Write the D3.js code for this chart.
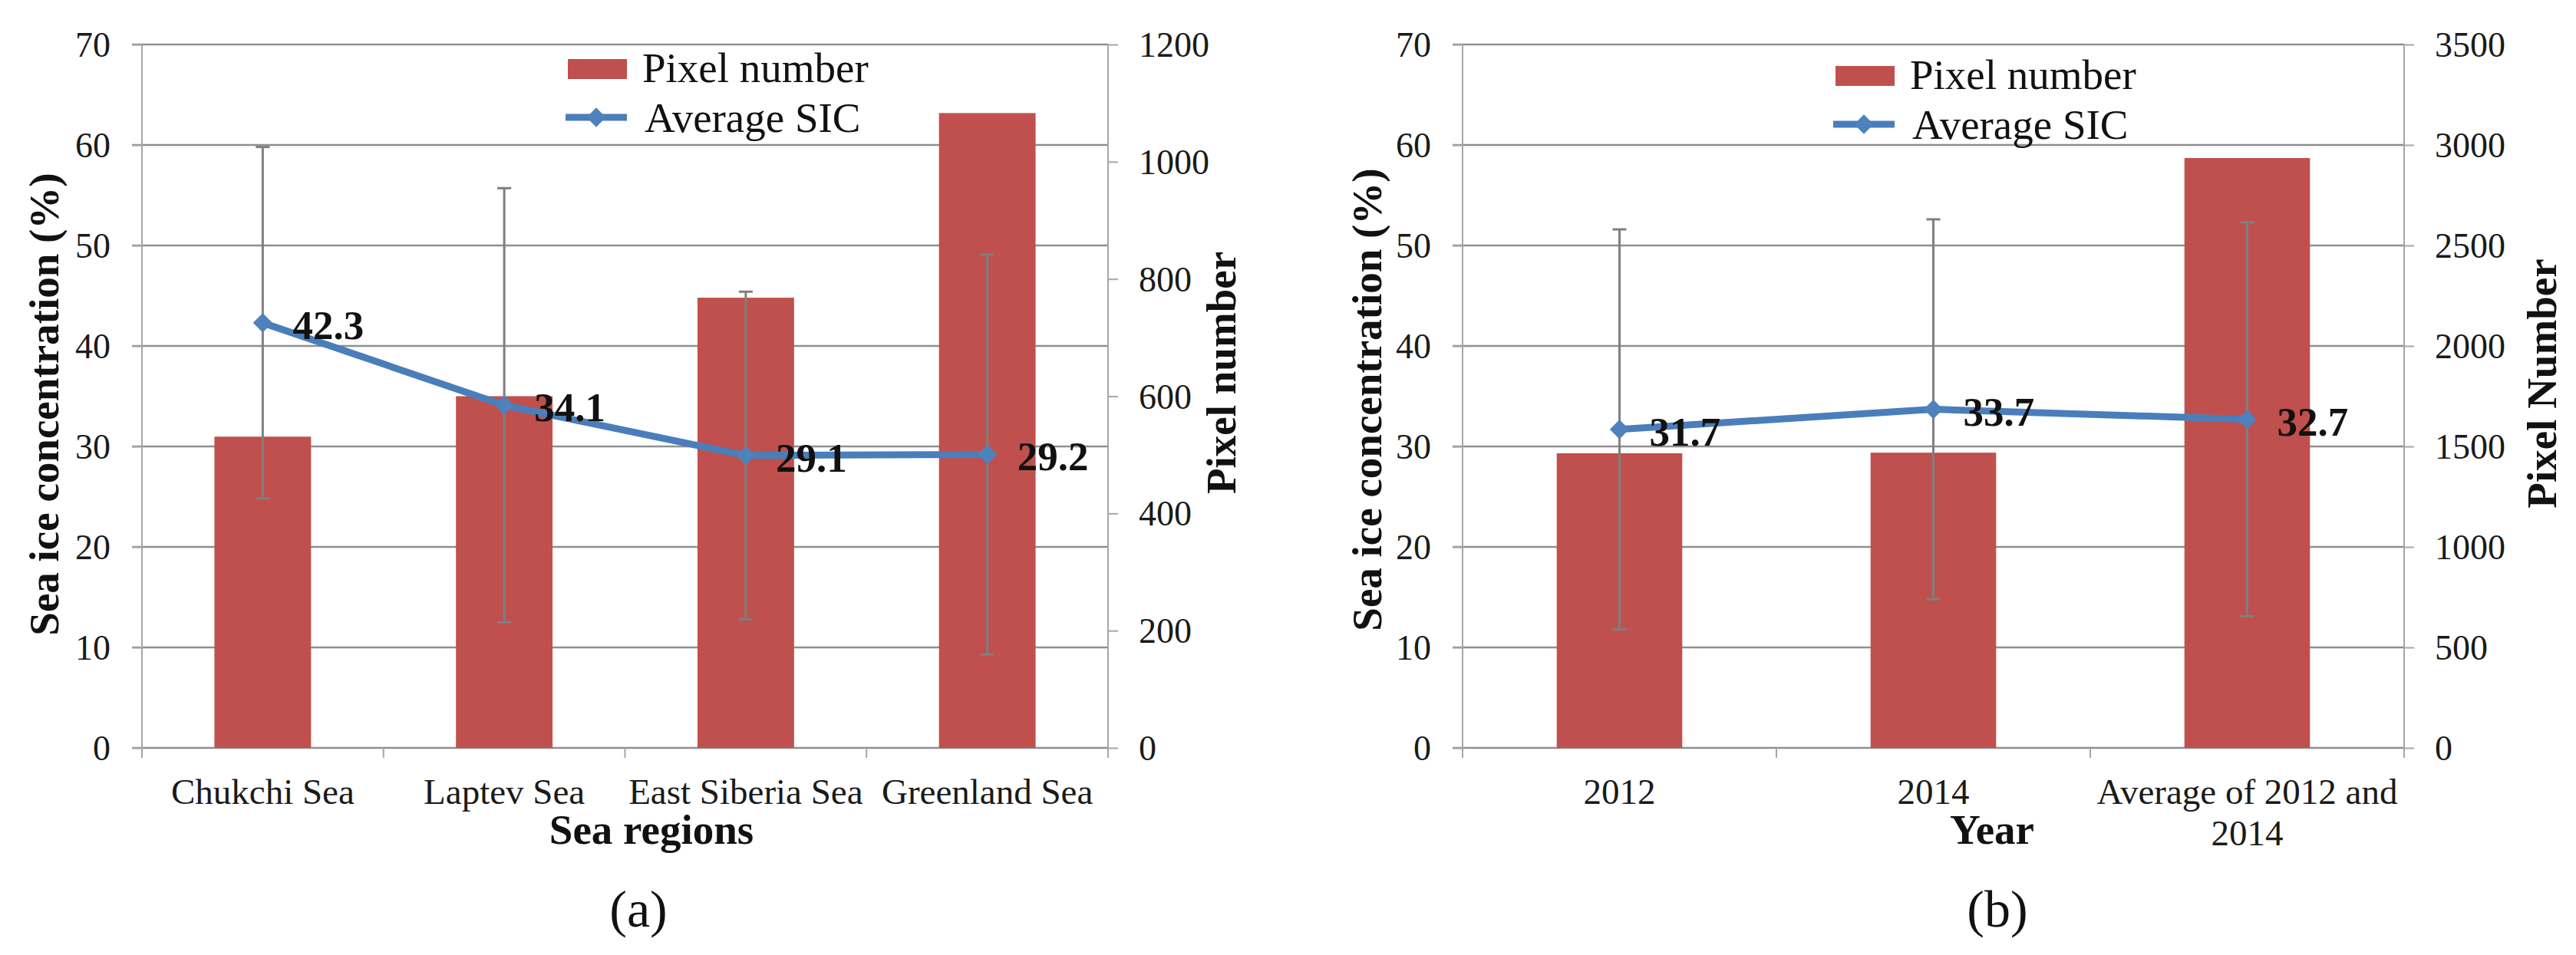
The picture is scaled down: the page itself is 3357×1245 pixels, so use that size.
<!DOCTYPE html>
<html>
<head>
<meta charset="utf-8">
<script src="https://cdnjs.cloudflare.com/ajax/libs/d3/7.8.5/d3.min.js"></script>
<style>
  body { margin: 0; background: #fff; }
  svg { display: block; font-family: "Liberation Serif", "Times New Roman", serif; }
</style>
</head>
<body>
<svg id="chart" width="3357" height="1245"></svg>
<script>
// panel (a): sea regions
var seaRegions = ["Chukchi Sea", "Laptev Sea", "East Siberia Sea", "Greenland Sea"]
var seaPixels = [531, 600, 768, 1083]
var seaSIC = [42.3, 34.1, 29.1, 29.2]
var seaSD = [17.5, 21.6, 16.3, 19.9]

// panel (b): years
var years = ["2012", "2014", "Average of 2012 and 2014"]
var yearPixels = [1466, 1469, 2935]
var yearSIC = [31.7, 33.7, 32.7]
var yearSD = [19.9, 18.9, 19.6]

// tick labels
var sicTicks = [0, 10, 20, 30, 40, 50, 60, 70]
var pixelTicksA = [0, 200, 400, 600, 800, 1000, 1200]
var pixelTicksB = [0, 500, 1000, 1500, 2000, 2500, 3000, 3500]

var BAR = "#C0504D", LINE = "#4A7EBB", MARK = "#4F81BD"
var GRID = "#8f8f8f", AXIS = "#a6a6a6", ERR = "#7f7f7f"

var svg = d3.select("#chart")

function wrap(text, width) {
  text.each(function() {
    var t = d3.select(this), words = t.text().split(/\s+/), line = [], lineNo = 0
    var x = t.attr("x"), y = t.attr("y")
    var span = t.text(null).append("tspan").attr("x", x).attr("y", y)
    words.forEach(function(w) {
      line.push(w)
      span.text(line.join(" "))
      if (span.node().getComputedTextLength() > width && line.length > 1) {
        line.pop()
        span.text(line.join(" "))
        line = [w]
        span = t.append("tspan").attr("x", x).attr("y", y).attr("dy", (++lineNo * 54) + "px").text(w)
      }
    })
  })
}

function drawPanel(p) {
  var g = svg.append("g")
  var x = d3.scaleBand().domain(p.cats).range([p.left, p.right]).padding(0)
  var yL = d3.scaleLinear().domain([0, 70]).range([975, 58])
  var yR = d3.scaleLinear().domain([0, p.rightTicks[p.rightTicks.length - 1]]).range([975, 58])
  var bw = x.bandwidth()
  var cx = function(c) { return x(c) + bw / 2 }

  // gridlines (with outside ticks on the left)
  g.selectAll(".grid").data(sicTicks).enter().append("line")
    .attr("x1", p.left - 13).attr("x2", p.right)
    .attr("y1", function(d) { return yL(d) }).attr("y2", function(d) { return yL(d) })
    .attr("stroke", GRID).attr("stroke-width", 2.5)

  // vertical axis lines
  g.append("line").attr("x1", p.left).attr("x2", p.left).attr("y1", 58).attr("y2", 988)
    .attr("stroke", AXIS).attr("stroke-width", 2)
  g.append("line").attr("x1", p.right).attr("x2", p.right).attr("y1", 58).attr("y2", 988)
    .attr("stroke", AXIS).attr("stroke-width", 2)

  // left axis
  var la = g.append("g").attr("transform", "translate(" + p.left + ",0)")
    .call(d3.axisLeft(yL).tickValues(sicTicks).tickFormat(d3.format("d")).tickSize(13).tickPadding(28))
  // right axis
  var ra = g.append("g").attr("transform", "translate(" + p.right + ",0)")
    .call(d3.axisRight(yR).tickValues(p.rightTicks).tickFormat(d3.format("d")).tickSize(13).tickPadding(27))
  ;[la, ra].forEach(function(a) {
    a.select(".domain").remove()
    a.selectAll(".tick line").attr("stroke", AXIS).attr("stroke-width", 2)
    a.selectAll(".tick text").attr("font-size", 46).attr("font-family", "Liberation Serif")
      .attr("fill", "#1a1a1a").attr("dy", "0.34em")
  })

  // category ticks along the bottom
  g.selectAll(".xt").data(p.cats.slice(1)).enter().append("line")
    .attr("x1", function(d) { return x(d) }).attr("x2", function(d) { return x(d) })
    .attr("y1", 975).attr("y2", 988).attr("stroke", AXIS).attr("stroke-width", 2)

  // category labels
  g.selectAll(".xl").data(p.cats).enter().append("text")
    .attr("x", cx).attr("y", 1048)
    .attr("text-anchor", "middle").attr("font-size", 47).attr("fill", "#1a1a1a")
    .text(function(d) { return d })
    .call(wrap, bw)

  // bars
  g.selectAll(".bar").data(p.cats).enter().append("rect")
    .attr("x", function(d) { return x(d) + bw * 0.3 })
    .attr("width", bw * 0.4)
    .attr("y", function(d, i) { return yR(p.pixels[i]) })
    .attr("height", function(d, i) { return 975 - yR(p.pixels[i]) })
    .attr("fill", BAR)

  // error bars
  var eb = g.selectAll(".err").data(p.cats).enter().append("g").attr("stroke", ERR).attr("stroke-width", 3)
  eb.append("line")
    .attr("x1", cx).attr("x2", cx)
    .attr("y1", function(d, i) { return yL(p.sic[i] - p.sd[i]) })
    .attr("y2", function(d, i) { return yL(p.sic[i] + p.sd[i]) })
  eb.append("line")
    .attr("x1", function(d) { return cx(d) - 9 }).attr("x2", function(d) { return cx(d) + 9 })
    .attr("y1", function(d, i) { return yL(p.sic[i] + p.sd[i]) })
    .attr("y2", function(d, i) { return yL(p.sic[i] + p.sd[i]) })
  eb.append("line")
    .attr("x1", function(d) { return cx(d) - 9 }).attr("x2", function(d) { return cx(d) + 9 })
    .attr("y1", function(d, i) { return yL(p.sic[i] - p.sd[i]) })
    .attr("y2", function(d, i) { return yL(p.sic[i] - p.sd[i]) })

  // SIC line + markers
  var pts = p.cats.map(function(c, i) { return [cx(c), yL(p.sic[i])] })
  g.append("path").attr("d", d3.line()(pts))
    .attr("fill", "none").attr("stroke", LINE).attr("stroke-width", 9).attr("stroke-linejoin", "round")
  var diamond = d3.symbol(d3.symbolSquare, 320)
  g.selectAll(".mk").data(pts).enter().append("path")
    .attr("d", diamond)
    .attr("transform", function(d) { return "translate(" + d[0] + "," + d[1] + ") rotate(45)" })
    .attr("fill", MARK)

  // data labels
  g.selectAll(".dl").data(pts).enter().append("text")
    .attr("x", function(d) { return d[0] + 39 }).attr("y", function(d) { return d[1] + 21 })
    .attr("font-size", 53).attr("font-weight", "bold").attr("fill", "#111")
    .text(function(d, i) { return p.sic[i].toFixed(1) })

  // legend
  var lg = g.append("g").attr("transform", "translate(" + p.legX + "," + p.legY + ")")
  lg.append("rect").attr("x", 0).attr("y", 0).attr("width", 77).attr("height", 26).attr("fill", BAR)
  lg.append("text").attr("x", 97).attr("y", 30).attr("font-size", 55).attr("fill", "#111").text("Pixel number")
  lg.append("line").attr("x1", -3).attr("x2", 77).attr("y1", 76).attr("y2", 76)
    .attr("stroke", LINE).attr("stroke-width", 9)
  lg.append("path").attr("d", diamond).attr("transform", "translate(37,76) rotate(45)").attr("fill", MARK)
  lg.append("text").attr("x", 100).attr("y", 95).attr("font-size", 55).attr("fill", "#111").text("Average SIC")

  // axis titles
  g.append("text").attr("transform", "translate(" + p.ltX + "," + p.ltY + ") rotate(-90)")
    .attr("text-anchor", "middle").attr("font-size", 55).attr("font-weight", "bold").attr("fill", "#111")
    .text("Sea ice concentration (%)")
  g.append("text").attr("transform", "translate(" + p.rtX + "," + p.rtY + ") rotate(-90)")
    .attr("text-anchor", "middle").attr("font-size", 55).attr("font-weight", "bold").attr("fill", "#111")
    .text(p.rightTitle)
  g.append("text").attr("x", p.xtX).attr("y", 1100)
    .attr("text-anchor", "middle").attr("font-size", 55).attr("font-weight", "bold").attr("fill", "#111")
    .text(p.xTitle)
  g.append("text").attr("x", p.capX).attr("y", 1208)
    .attr("text-anchor", "middle").attr("font-size", 68).attr("fill", "#111")
    .text(p.caption)
}

drawPanel({
  cats: seaRegions, pixels: seaPixels, sic: seaSIC, sd: seaSD, rightTicks: pixelTicksA,
  left: 185, right: 1444, legX: 740, legY: 77,
  ltX: 76, ltY: 527, rtX: 1610, rtY: 486, rightTitle: "Pixel number",
  xtX: 849, xTitle: "Sea regions", capX: 832, caption: "(a)"
})

drawPanel({
  cats: years, pixels: yearPixels, sic: yearSIC, sd: yearSD, rightTicks: pixelTicksB,
  left: 1906, right: 3133, legX: 2392, legY: 86,
  ltX: 1800, ltY: 521, rtX: 3331, rtY: 500, rightTitle: "Pixel Number",
  xtX: 2596, xTitle: "Year", capX: 2603, caption: "(b)"
})
</script>
</body>
</html>
